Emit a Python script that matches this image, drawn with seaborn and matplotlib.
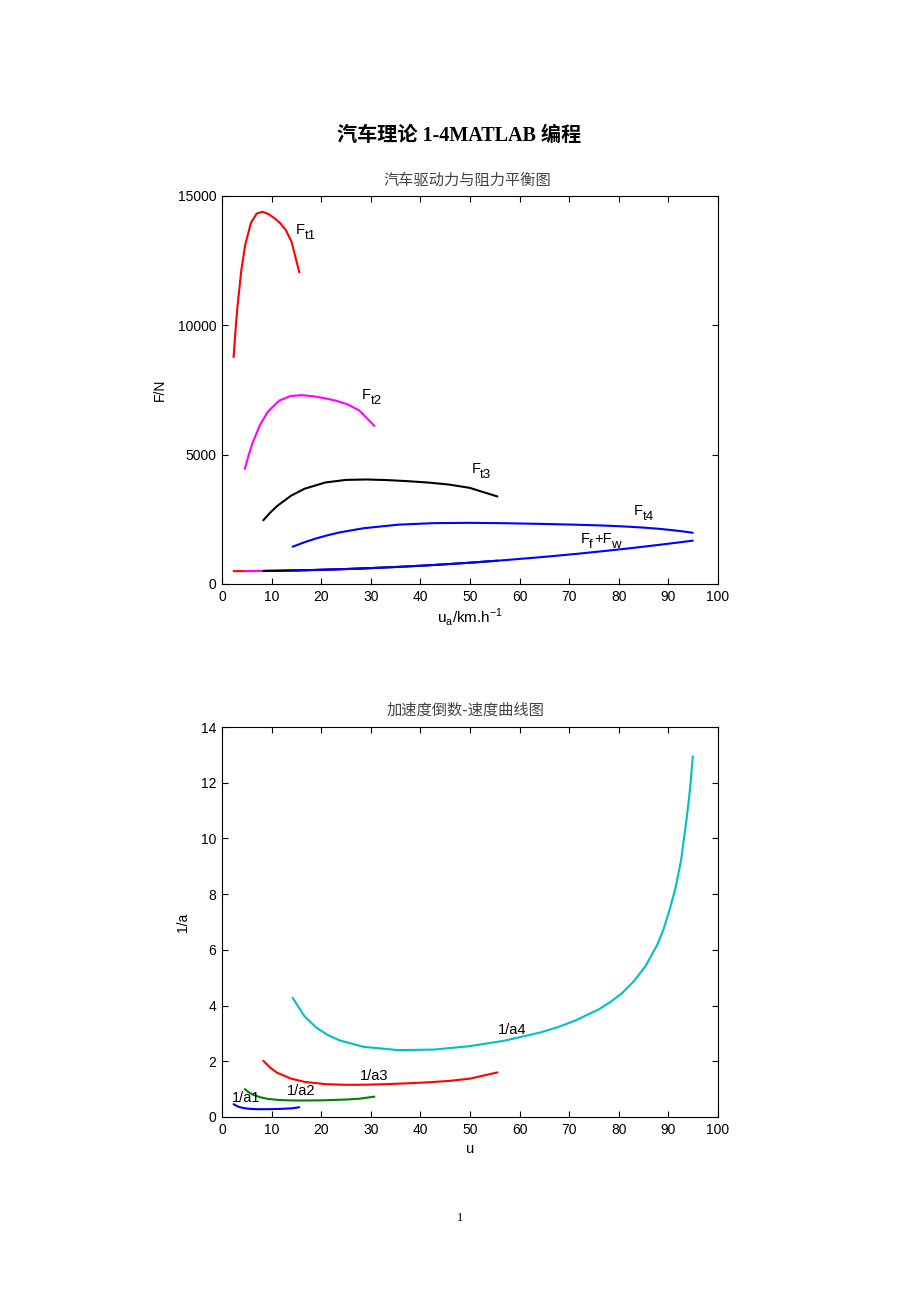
import matplotlib
matplotlib.use('Agg')
import matplotlib.pyplot as plt
import seaborn as sns

# gear 1..4 : speed (km/h), driving force Ft (N), resistance Ff+Fw (N), 1/a
ua1 = [2.34, 2.73, 3.12, 3.90, 4.68, 5.85, 7.01, 8.18, 9.35, 10.52, 11.69, 12.86, 14.03, 15.59]
ft1 = [8767, 9818, 10721, 12133, 13111, 13966, 14322, 14385, 14300, 14149, 13958, 13683, 13228, 12044]
fr1 = [495, 495, 496, 496, 497, 499, 501, 503, 506, 509, 512, 516, 520, 526]
ia1 = [0.46, 0.42, 0.38, 0.34, 0.31, 0.29, 0.28, 0.28, 0.28, 0.285, 0.29, 0.30, 0.31, 0.35]

ua2 = [4.61, 5.38, 6.14, 7.68, 9.22, 11.52, 13.82, 16.13, 18.43, 20.74, 23.04, 25.34, 27.65, 30.72]
ft2 = [4448, 4981, 5439, 6156, 6652, 7086, 7266, 7298, 7255, 7179, 7082, 6942, 6711, 6111]
fr2 = [497, 498, 499, 502, 505, 512, 519, 528, 539, 551, 564, 578, 594, 618]
ia2 = [1.0, 0.89, 0.81, 0.71, 0.65, 0.61, 0.595, 0.59, 0.595, 0.60, 0.615, 0.63, 0.655, 0.73]

ua3 = [8.33, 9.72, 11.10, 13.88, 16.65, 20.82, 24.98, 29.15, 33.31, 37.47, 41.64, 45.80, 49.96, 55.52]
ft3 = [2462, 2757, 3010, 3407, 3681, 3922, 4022, 4039, 4015, 3973, 3919, 3842, 3714, 3382]
fr3 = [503, 507, 510, 520, 531, 551, 576, 606, 640, 678, 721, 769, 821, 898]
ia3 = [2.02, 1.77, 1.59, 1.38, 1.26, 1.18, 1.155, 1.16, 1.18, 1.21, 1.245, 1.295, 1.375, 1.60]

ua4 = [14.24, 16.61, 18.99, 21.36, 23.73, 28.48, 35.60, 42.72, 49.84, 56.96, 64.08, 67.64, 71.20,
       75.94, 78.32, 80.69, 83.06, 85.44, 87.81, 88.99, 90.18, 91.37, 92.55, 93.74, 94.34, 94.93]
ft4 = [1439, 1612, 1760, 1886, 1992, 2152, 2293, 2351, 2362, 2348, 2323, 2308, 2291,
       2264, 2246, 2226, 2201, 2172, 2136, 2115, 2091, 2067, 2040, 2010, 1994, 1977]
fr4 = [521, 530, 541, 554, 568, 601, 660, 733, 820, 919, 1032, 1094, 1158,
       1250, 1298, 1347, 1398, 1451, 1504, 1532, 1560, 1588, 1616, 1645, 1660, 1675]
ia4 = [4.28, 3.62, 3.21, 2.94, 2.75, 2.52, 2.40, 2.42, 2.54, 2.74, 3.03, 3.22, 3.46,
       3.86, 4.13, 4.45, 4.88, 5.43, 6.2, 6.72, 7.4, 8.17, 9.2, 10.8, 11.72, 12.95]

top_colors = ['#ff0000', '#ff00ff', '#000000', '#0000ff']
bot_colors = ['#0000ff', '#008000', '#ff0000', '#00bfbf']

sns.set_style('ticks')
plt.rcParams['font.family'] = ['Liberation Sans', 'Noto Sans CJK SC', 'DejaVu Sans']
plt.rcParams['mathtext.fontset'] = 'custom'
plt.rcParams['mathtext.rm'] = 'Liberation Sans'
plt.rcParams['axes.linewidth'] = 0.8
for key in ['text.color', 'axes.labelcolor', 'xtick.color', 'ytick.color', 'axes.edgecolor']:
    plt.rcParams[key] = 'black'


def sub_label(ax, x, y, parts):
    """MATLAB-like label: pieces with pixel offsets, subscripts nearly full size."""
    for txt, dx, dy, size in parts:
        ax.annotate(txt, xy=(x, y), xytext=(dx, dy), textcoords='offset pixels',
                    fontsize=size, ha='left', va='baseline')


fig = plt.figure(figsize=(9.2, 13.02), dpi=100)
ax1 = fig.add_axes([0.2413, 0.5515, 0.5391, 0.298])
ax2 = fig.add_axes([0.2413, 0.1421, 0.5391, 0.2995])

gears = [(ua1, ft1, fr1, ia1), (ua2, ft2, fr2, ia2), (ua3, ft3, fr3, ia3), (ua4, ft4, fr4, ia4)]

# driving force / resistance balance
for (ua, ft, fr, ia), c in zip(gears, top_colors):
    sns.lineplot(x=ua, y=ft, color=c, lw=1.5, ax=ax1)
    sns.lineplot(x=ua, y=fr, color=c, lw=1.5, ax=ax1)

ax1.set_xlim(0, 100)
ax1.set_ylim(0, 15000)
ax1.set_xticks(range(0, 101, 10))
ax1.set_yticks([0, 5000, 10000, 15000])
ax1.set_xlabel(r'u$_\mathrm{a}$/km.h$^\mathrm{-1}$', fontsize=11)
ax1.set_ylabel('F/N', fontsize=10)
ax1.xaxis.set_label_coords(0.5, -0.058)
ax1.yaxis.set_label_coords(-0.111, 0.5)

for sub, x, y in [('t1', 14.9, 13518), ('t2', 28.2, 7140), ('t3', 50.3, 4279), ('t4', 83.1, 2667)]:
    sub_label(ax1, x, y, [('F', 0, 0, 10.5), (sub, 8.5, -5, 9.5)])
sub_label(ax1, 72.4, 1573, [('F', 0, 0, 10.5), ('f', 8, -5, 9.5), ('+F', 13.5, 0, 10.5),
                            ('w', 30, -5, 9.5)])

# inverse acceleration
for (ua, ft, fr, ia), c in zip(gears, bot_colors):
    sns.lineplot(x=ua, y=ia, color=c, lw=1.5, ax=ax2)

ax2.set_xlim(0, 100)
ax2.set_ylim(0, 14)
ax2.set_xticks(range(0, 101, 10))
ax2.set_yticks(range(0, 15, 2))
ax2.set_xlabel('u', fontsize=10.5)
ax2.set_ylabel('1/a', fontsize=10)
ax2.xaxis.set_label_coords(0.5, -0.064)
ax2.yaxis.set_label_coords(-0.0645, 0.5)

for txt, x, y in [('1/a1', 2.0, 0.55), ('1/a2', 13.1, 0.79), ('1/a3', 27.7, 1.33), ('1/a4', 55.7, 2.98)]:
    ax2.text(x, y, txt, fontsize=10.5, ha='left', va='baseline')

for ax in (ax1, ax2):
    ax.tick_params(direction='in', top=True, right=True, length=4, width=0.8,
                   labelsize=10, pad=4)

fig.text(0.4995, 0.8955, '汽车理论 1-4MATLAB 编程', fontsize=14.5, fontweight='bold',
         ha='center', va='center', family=['Liberation Serif', 'Noto Sans CJK SC'])
fig.text(0.508, 0.8618, '汽车驱动力与阻力平衡图', fontsize=11, color='#444444',
         ha='center', va='center', family=['Noto Sans CJK SC'])
fig.text(0.5065, 0.4547, '加速度倒数-速度曲线图', fontsize=11, color='#444444',
         ha='center', va='center', family=['Noto Sans CJK SC'])
fig.text(0.5, 0.0645, '1', fontsize=9, ha='center', va='center', family=['Liberation Serif'])

fig.savefig('out.png', dpi=100)
